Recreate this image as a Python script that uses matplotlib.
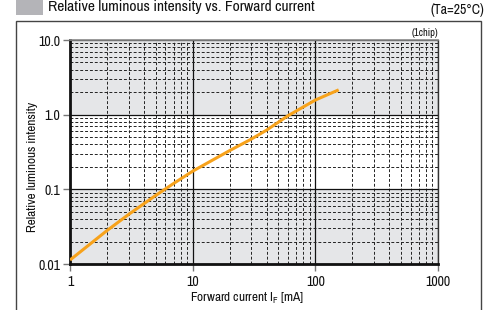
import matplotlib
matplotlib.use("Agg")
import matplotlib.pyplot as plt
from matplotlib.patches import Rectangle
from matplotlib.ticker import FixedLocator, NullFormatter, LogLocator

plt.rcParams['font.family'] = ['Liberation Sans Narrow', 'Archivo Narrow', 'DejaVu Sans']

# Data
current_mA = [1, 2, 3, 5, 7, 10, 20, 30, 40, 60, 100, 155]
rel_intensity = [0.0113, 0.028, 0.046, 0.083, 0.12, 0.175, 0.33, 0.47, 0.62, 0.97, 1.57, 2.15]

x_ticks = [1, 10, 100, 1000]
x_tick_labels = ["1", "10", "100", "1000"]
y_ticks = [0.01, 0.1, 1.0, 10.0]
y_tick_labels = ["0.01", "0.1", "1.0", "10.0"]
shaded_bands = [(1.0, 10.0), (0.01, 0.1)]

W, H = 501, 310
fig = plt.figure(figsize=(W / 100, H / 100), dpi=100)

# outer frame
fig.patches.append(Rectangle((16 / W, -0.2), (481 - 16) / W, 1 - 21 / H + 0.2,
                             transform=fig.transFigure, fill=False,
                             edgecolor='#444444', lw=1.0))
# gray square
fig.patches.append(Rectangle((16 / W, 1 - 15 / H), 27 / W, 15 / H,
                             transform=fig.transFigure, facecolor='#b4b4b8',
                             edgecolor='none'))
fig.text(48 / W, 1 - 7.5 / H, "Relative luminous intensity vs. Forward current",
         ha='left', va='center', fontsize=11.2, color='#111111')
fig.text(484 / W, 1 - 10 / H, "(Ta=25°C)", ha='right', va='center',
         fontsize=10, color='#111111')

ax = fig.add_axes([70 / W, 1 - 264 / H, (438 - 70) / W, (264 - 40) / H])
ax.set_xscale('log')
ax.set_yscale('log')
ax.set_xlim(1, 1000)
ax.set_ylim(0.01, 10)

for lo, hi in shaded_bands:
    ax.axhspan(lo, hi, color='#e5e6e8', zorder=0, lw=0)

ax.xaxis.set_major_locator(FixedLocator(x_ticks))
ax.yaxis.set_major_locator(FixedLocator(y_ticks))
ax.set_xticklabels(x_tick_labels)
ax.set_yticklabels(y_tick_labels)
ax.xaxis.set_minor_locator(LogLocator(base=10, subs=range(2, 10)))
ax.yaxis.set_minor_locator(LogLocator(base=10, subs=range(2, 10)))
ax.xaxis.set_minor_formatter(NullFormatter())
ax.yaxis.set_minor_formatter(NullFormatter())

ax.grid(which='major', color='#111111', lw=0.9, ls='-', zorder=1)
ax.grid(which='minor', color='#222222', lw=0.7, ls=(0, (3, 2)), zorder=1)
ax.set_axisbelow(True)

ax.tick_params(which='major', direction='out', length=5, width=1, color='#777777',
               labelsize=10, labelcolor='#111111', pad=2)
ax.tick_params(which='minor', length=0)
ax.tick_params(axis='x', pad=3)

for s in ['left', 'bottom']:
    ax.spines[s].set_color('#111111')
    ax.spines[s].set_linewidth(2)
ax.spines['top'].set_color('#888888')
ax.spines['top'].set_linewidth(1.2)
ax.spines['right'].set_color('#333333')
ax.spines['right'].set_linewidth(1)

ax.plot(current_mA, rel_intensity, color='#f7a21b', lw=2.2, zorder=3,
        solid_capstyle='butt')

fig.text(33 / W, 1 - 167 / H, "Relative luminous intensity", rotation=90,
         ha='center', va='center', fontsize=9.5, color='#111111')
fig.text(247 / W, 1 - 298 / H, r"Forward current I$_\mathregular{F}$ [mA]",
         ha='center', va='center', fontsize=9.5, color='#111111')

fig.text(438 / W, 1 - 33 / H, "(1chip)", ha='right', va='center', fontsize=7.5,
         color='#111111')

fig.savefig("out.png", dpi=100)
